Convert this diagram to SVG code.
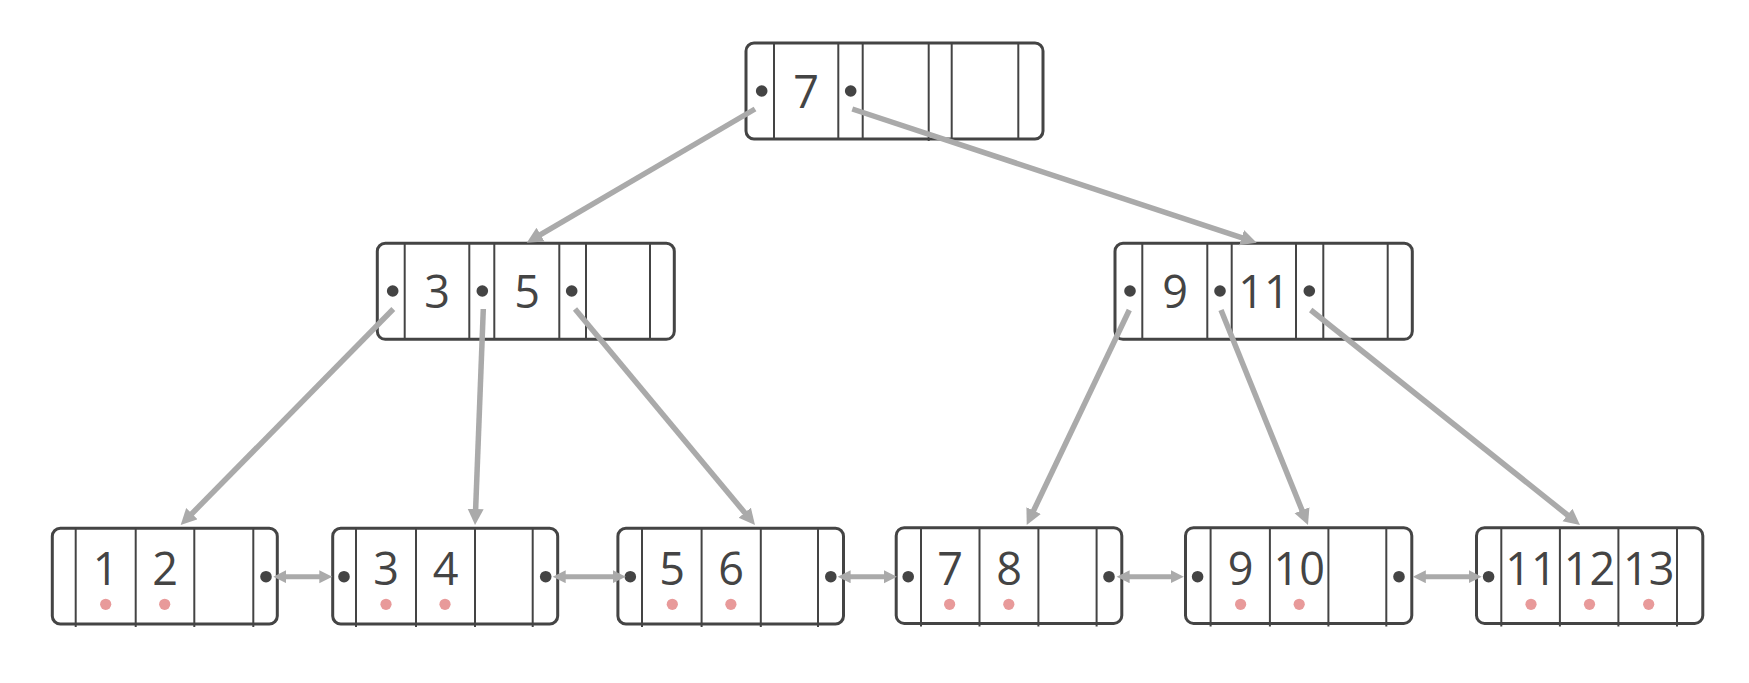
<svg xmlns="http://www.w3.org/2000/svg" width="1749" height="683" viewBox="0 0 1749 683">
<defs>
<style>
.box{fill:#fff;stroke:#444;stroke-width:3}
.div{stroke:#444;stroke-width:2}
.key{font-family:"Open Sans","Noto Sans",sans-serif;font-size:45px;fill:#444;text-anchor:middle}
.ptr{fill:#444}
.rec{fill:#e89a9a}
.con{stroke:#aaa;stroke-width:5.5;fill:none}
.lnk{stroke:#aaa;stroke-width:5;fill:none}
</style>
<marker id="ah" markerUnits="userSpaceOnUse" markerWidth="18" markerHeight="18" refX="4" refY="8" orient="auto">
<path d="M0,0 L16,8 L0,16 z" fill="#aaa"/>
</marker>
<marker id="lh" markerUnits="userSpaceOnUse" markerWidth="15" markerHeight="15" refX="3" refY="6.5" orient="auto-start-reverse">
<path d="M0,0 L13,6.5 L0,13 z" fill="#aaa"/>
</marker>
</defs>
<rect width="1749" height="683" fill="#fff"/>

<g id="root">
<rect class="box" x="746" y="43" width="297" height="96" rx="8"/>
<line class="div" x1="774" y1="43" x2="774" y2="139"/>
<line class="div" x1="838.3" y1="43" x2="838.3" y2="139"/>
<line class="div" x1="862.7" y1="43" x2="862.7" y2="139"/>
<line class="div" x1="928.7" y1="43" x2="928.7" y2="141"/>
<line class="div" x1="951.7" y1="43" x2="951.7" y2="139"/>
<line class="div" x1="1018.3" y1="43" x2="1018.3" y2="139"/>
<circle class="ptr" cx="761.7" cy="91" r="5.8"/>
<circle class="ptr" cx="850.7" cy="91" r="5.8"/>
<text class="key" x="806" y="108">7</text>
</g>

<g id="inner-left">
<rect class="box" x="377.3" y="243.3" width="297" height="96" rx="8"/>
<line class="div" x1="404.7" y1="243.3" x2="404.7" y2="339.3"/>
<line class="div" x1="469.3" y1="243.3" x2="469.3" y2="339.3"/>
<line class="div" x1="494.3" y1="243.3" x2="494.3" y2="339.3"/>
<line class="div" x1="559.3" y1="243.3" x2="559.3" y2="339.3"/>
<line class="div" x1="586" y1="243.3" x2="586" y2="339.3"/>
<line class="div" x1="650" y1="243.3" x2="650" y2="339.3"/>
<circle class="ptr" cx="392.7" cy="291" r="5.8"/>
<circle class="ptr" cx="482.3" cy="291" r="5.8"/>
<circle class="ptr" cx="571.7" cy="291" r="5.8"/>
<text class="key" x="437" y="308">3</text>
<text class="key" x="527" y="308">5</text>
</g>

<g id="inner-right">
<rect class="box" x="1115" y="243.3" width="297.3" height="96" rx="8"/>
<line class="div" x1="1142.3" y1="243.3" x2="1142.3" y2="339.3"/>
<line class="div" x1="1207.3" y1="243.3" x2="1207.3" y2="339.3"/>
<line class="div" x1="1231.7" y1="243.3" x2="1231.7" y2="339.3"/>
<line class="div" x1="1296" y1="243.3" x2="1296" y2="339.3"/>
<line class="div" x1="1323.3" y1="243.3" x2="1323.3" y2="339.3"/>
<line class="div" x1="1387.7" y1="243.3" x2="1387.7" y2="339.3"/>
<circle class="ptr" cx="1130" cy="291" r="5.8"/>
<circle class="ptr" cx="1220" cy="291" r="5.8"/>
<circle class="ptr" cx="1309.3" cy="291" r="5.8"/>
<text class="key" x="1175" y="308">9</text>
<text class="key" x="1264" y="308">11</text>
</g>

<g id="leaf-1">
<rect class="box" x="52.3" y="528.3" width="225" height="95.7" rx="8"/>
<line class="div" x1="75.7" y1="528.3" x2="75.7" y2="627"/>
<line class="div" x1="135.7" y1="528.3" x2="135.7" y2="627"/>
<line class="div" x1="194.3" y1="528.3" x2="194.3" y2="627"/>
<line class="div" x1="253.3" y1="528.3" x2="253.3" y2="627"/>
<circle class="ptr" cx="266" cy="576.7" r="5.8"/>
<text class="key" x="105.7" y="585">1</text>
<text class="key" x="165" y="585">2</text>
<circle class="rec" cx="105.7" cy="604.3" r="5.6"/>
<circle class="rec" cx="164.7" cy="604.3" r="5.6"/>
</g>

<g id="leaf-2">
<rect class="box" x="332.7" y="528.3" width="225" height="95.7" rx="8"/>
<line class="div" x1="356" y1="528.3" x2="356" y2="627"/>
<line class="div" x1="416" y1="528.3" x2="416" y2="627"/>
<line class="div" x1="475" y1="528.3" x2="475" y2="627"/>
<line class="div" x1="532.7" y1="528.3" x2="532.7" y2="627"/>
<circle class="ptr" cx="344" cy="576.7" r="5.8"/>
<circle class="ptr" cx="545.7" cy="576.7" r="5.8"/>
<text class="key" x="386" y="585">3</text>
<text class="key" x="445.5" y="585">4</text>
<circle class="rec" cx="386" cy="604.3" r="5.6"/>
<circle class="rec" cx="445" cy="604.3" r="5.6"/>
</g>

<g id="leaf-3">
<rect class="box" x="617.9" y="528.3" width="225.6" height="95.7" rx="8"/>
<line class="div" x1="642" y1="528.3" x2="642" y2="627"/>
<line class="div" x1="701.6" y1="528.3" x2="701.6" y2="627"/>
<line class="div" x1="760.8" y1="528.3" x2="760.8" y2="627"/>
<line class="div" x1="818" y1="528.3" x2="818" y2="627"/>
<circle class="ptr" cx="630.3" cy="576.7" r="5.8"/>
<circle class="ptr" cx="830.8" cy="576.7" r="5.8"/>
<text class="key" x="672" y="585">5</text>
<text class="key" x="731" y="585">6</text>
<circle class="rec" cx="672.3" cy="604.3" r="5.6"/>
<circle class="rec" cx="730.9" cy="604.3" r="5.6"/>
</g>

<g id="leaf-4">
<rect class="box" x="896.2" y="527.7" width="225.6" height="95.7" rx="8"/>
<line class="div" x1="921" y1="527.7" x2="921" y2="626.5"/>
<line class="div" x1="979.5" y1="527.7" x2="979.5" y2="626.5"/>
<line class="div" x1="1038.4" y1="527.7" x2="1038.4" y2="626.5"/>
<line class="div" x1="1096.6" y1="527.7" x2="1096.6" y2="626.5"/>
<circle class="ptr" cx="908.2" cy="576.7" r="5.8"/>
<circle class="ptr" cx="1109" cy="576.7" r="5.8"/>
<text class="key" x="950" y="585">7</text>
<text class="key" x="1009" y="585">8</text>
<circle class="rec" cx="949.6" cy="604.3" r="5.6"/>
<circle class="rec" cx="1008.8" cy="604.3" r="5.6"/>
</g>

<g id="leaf-5">
<rect class="box" x="1185.5" y="527.7" width="226.3" height="95.7" rx="8"/>
<line class="div" x1="1210.6" y1="527.7" x2="1210.6" y2="626.5"/>
<line class="div" x1="1269.9" y1="527.7" x2="1269.9" y2="626.5"/>
<line class="div" x1="1328.4" y1="527.7" x2="1328.4" y2="626.5"/>
<line class="div" x1="1386.3" y1="527.7" x2="1386.3" y2="626.5"/>
<circle class="ptr" cx="1197.6" cy="576.7" r="5.8"/>
<circle class="ptr" cx="1399" cy="576.7" r="5.8"/>
<text class="key" x="1240.6" y="585">9</text>
<text class="key" x="1299.2" y="585">10</text>
<circle class="rec" cx="1240.6" cy="604.3" r="5.6"/>
<circle class="rec" cx="1299.2" cy="604.3" r="5.6"/>
</g>

<g id="leaf-6">
<rect class="box" x="1476.5" y="527.7" width="226.3" height="95.7" rx="8"/>
<line class="div" x1="1501.3" y1="527.7" x2="1501.3" y2="626.5"/>
<line class="div" x1="1559.9" y1="527.7" x2="1559.9" y2="626.5"/>
<line class="div" x1="1618.4" y1="527.7" x2="1618.4" y2="626.5"/>
<line class="div" x1="1677" y1="527.7" x2="1677" y2="626.5"/>
<circle class="ptr" cx="1488.6" cy="576.7" r="5.8"/>
<text class="key" x="1531" y="585">11</text>
<text class="key" x="1589.5" y="585">12</text>
<text class="key" x="1648.7" y="585">13</text>
<circle class="rec" cx="1531" cy="604.3" r="5.6"/>
<circle class="rec" cx="1589.5" cy="604.3" r="5.6"/>
<circle class="rec" cx="1648.7" cy="604.3" r="5.6"/>
</g>

<g id="connectors">
<line class="con" x1="755" y1="109" x2="537.1" y2="236.6" marker-end="url(#ah)"/>
<line class="con" x1="852.3" y1="109" x2="1245.3" y2="238.9" marker-end="url(#ah)"/>
<line class="con" x1="393.3" y1="309" x2="189.1" y2="516.5" marker-end="url(#ah)"/>
<line class="con" x1="483.3" y1="309" x2="475.5" y2="513" marker-end="url(#ah)"/>
<line class="con" x1="575" y1="309" x2="747.3" y2="515.8" marker-end="url(#ah)"/>
<line class="con" x1="1129.3" y1="310" x2="1031.9" y2="514.2" marker-end="url(#ah)"/>
<line class="con" x1="1221" y1="310" x2="1303.5" y2="513.9" marker-end="url(#ah)"/>
<line class="con" x1="1310.7" y1="310" x2="1570.6" y2="517.5" marker-end="url(#ah)"/>
<line class="lnk" x1="283.3" y1="576.7" x2="322.3" y2="576.7" marker-start="url(#lh)" marker-end="url(#lh)"/>
<line class="lnk" x1="562.7" y1="576.7" x2="615.8" y2="576.7" marker-start="url(#lh)" marker-end="url(#lh)"/>
<line class="lnk" x1="847.6" y1="576.7" x2="886.9" y2="576.7" marker-start="url(#lh)" marker-end="url(#lh)"/>
<line class="lnk" x1="1126.6" y1="576.7" x2="1173.8" y2="576.7" marker-start="url(#lh)" marker-end="url(#lh)"/>
<line class="lnk" x1="1422.8" y1="576.7" x2="1471.7" y2="576.7" marker-start="url(#lh)" marker-end="url(#lh)"/>
</g>
</svg>
